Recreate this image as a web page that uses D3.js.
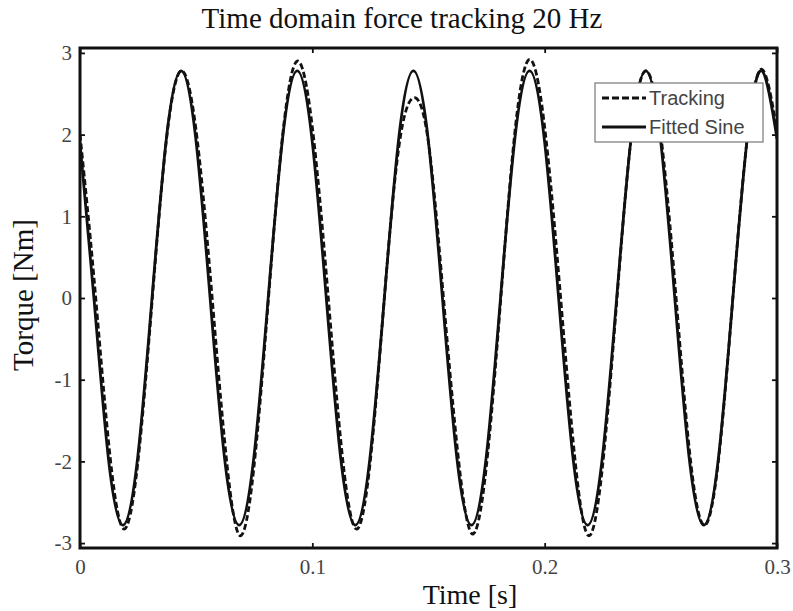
<!DOCTYPE html>
<html>
<head>
<meta charset="utf-8">
<script src="https://cdn.jsdelivr.net/npm/d3@7"></script>
<style>
  body { margin: 0; background: #fff; }
  svg text { font-family: "Liberation Serif", "Times New Roman", serif; }
</style>
</head>
<body>
<div id="chart"></div>
<script>
// time samples [s] (about eight per period)
var times = [0, 0.006, 0.01225, 0.0185, 0.02475, 0.031, 0.03725, 0.0435,
  0.04975, 0.056, 0.06225, 0.0685, 0.07475, 0.081, 0.08725, 0.0935,
  0.09975, 0.106, 0.11225, 0.1185, 0.12475, 0.131, 0.13725, 0.1435,
  0.14975, 0.156, 0.16225, 0.1685, 0.17475, 0.181, 0.18725, 0.1935,
  0.19975, 0.206, 0.21225, 0.2185, 0.22475, 0.231, 0.23725, 0.2435,
  0.24975, 0.256, 0.26225, 0.2685, 0.27475, 0.281, 0.28725, 0.2935, 0.3];

// fitted sine [Nm]
var fitted = [1.90, 0, -1.97, -2.78, -1.97, 0, 1.97, 2.78,
  1.97, 0, -1.97, -2.78, -1.97, 0, 1.97, 2.78,
  1.97, 0, -1.97, -2.78, -1.97, 0, 1.97, 2.78,
  1.97, 0, -1.97, -2.78, -1.97, 0, 1.97, 2.78,
  1.97, 0, -1.97, -2.78, -1.97, 0, 1.97, 2.78,
  1.97, 0, -1.97, -2.78, -1.97, 0, 1.97, 2.78, 1.95];

// measured tracking torque [Nm]
var tracking = [2.00, 0.25, -1.75, -2.82, -2.05, -0.05, 1.95, 2.78,
  2.10, 0.30, -1.75, -2.90, -2.10, -0.05, 2.00, 2.90,
  2.15, 0.30, -1.75, -2.82, -2.05, 0.00, 1.85, 2.45,
  1.95, 0.15, -1.80, -2.88, -2.10, -0.05, 2.05, 2.92,
  2.15, 0.30, -1.75, -2.90, -2.10, -0.05, 1.97, 2.78,
  2.05, 0.20, -1.85, -2.78, -2.00, 0.00, 1.97, 2.80, 2.05];

var xTicks = [0, 0.1, 0.2, 0.3];
var xTickLabels = ["0", "0.1", "0.2", "0.3"];
var yTicks = [-3, -2, -1, 0, 1, 2, 3];
var yTickLabels = ["-3", "-2", "-1", "0", "1", "2", "3"];
var legendNames = ["Tracking", "Fitted Sine"];

var W = 793, H = 611;
var m = {top: 48, right: 16, bottom: 63, left: 80};
var w = W - m.left - m.right, h = H - m.top - m.bottom;

var svg = d3.select("#chart").append("svg").attr("width", W).attr("height", H);
var g = svg.append("g").attr("transform", "translate(" + m.left + "," + m.top + ")");

var x = d3.scaleLinear().domain([0, 0.3]).range([0, w]);
var y = d3.scaleLinear().domain([-3.06, 3.06]).range([h, 0]);

svg.append("clipPath").attr("id", "clip")
    .append("rect").attr("width", w).attr("height", h);

var line = function(vals) {
  return d3.line()
    .x(function(d, i) { return x(times[i]); })
    .y(function(d) { return y(d); })
    .curve(d3.curveNatural)(vals);
};

var plot = g.append("g").attr("clip-path", "url(#clip)");
plot.append("path").attr("d", line(fitted))
    .attr("fill", "none").attr("stroke", "#111").attr("stroke-width", 2.8);
plot.append("path").attr("d", line(tracking))
    .attr("fill", "none").attr("stroke", "#111").attr("stroke-width", 2.8)
    .attr("stroke-dasharray", "6,3");

// axes, ticks pointing in like matlab
function styleAxis(sel) {
  sel.select(".domain").remove();
  sel.selectAll(".tick line").attr("stroke", "#111").attr("stroke-width", 1.8);
  sel.selectAll("text").attr("fill", "#444").style("font-size", "21px");
}
var xAx = g.append("g").attr("transform", "translate(0," + h + ")")
  .call(d3.axisBottom(x).tickValues(xTicks).tickSize(-5)
        .tickFormat(function(d, i) { return xTickLabels[i]; }))
  .call(styleAxis);
xAx.selectAll("text").attr("y", 26).attr("dy", 0);
g.append("g")
  .call(d3.axisLeft(y).tickValues(yTicks).tickSize(-5).tickPadding(8)
        .tickFormat(function(d, i) { return yTickLabels[i]; }))
  .call(styleAxis);
g.append("g")
  .call(d3.axisTop(x).tickValues(xTicks).tickSize(-5).tickFormat(""))
  .call(styleAxis);
g.append("g").attr("transform", "translate(" + w + ",0)")
  .call(d3.axisRight(y).tickValues(yTicks).tickSize(-5).tickFormat(""))
  .call(styleAxis);

g.append("rect").attr("width", w).attr("height", h)
  .attr("fill", "none").attr("stroke", "#111").attr("stroke-width", 3);

// legend
var lg = g.append("g").attr("transform", "translate(" + (595 - m.left) + "," + (83 - m.top) + ")");
lg.append("rect").attr("width", 168).attr("height", 59)
  .attr("fill", "#fff").attr("stroke", "#777").attr("stroke-width", 1.2);
legendNames.forEach(function(name, i) {
  var yy = 15 + i * 29;
  lg.append("line").attr("x1", 7).attr("x2", 51).attr("y1", yy).attr("y2", yy)
    .attr("stroke", "#111").attr("stroke-width", 2.8)
    .attr("stroke-dasharray", i === 0 ? "7,3" : null);
  lg.append("text").attr("x", 54).attr("y", yy + 7).text(name)
    .style("font-family", "'Liberation Sans', Arial, sans-serif")
    .style("font-size", "20px").attr("fill", "#444");
});

// titles
svg.append("text").attr("x", 402).attr("y", 28).attr("text-anchor", "middle")
  .style("font-size", "29px").attr("fill", "#111").text("Time domain force tracking 20 Hz");
svg.append("text").attr("x", 470).attr("y", 604).attr("text-anchor", "middle")
  .style("font-size", "28px").attr("fill", "#111").text("Time [s]");
svg.append("text").attr("transform", "translate(33,295) rotate(-90)").attr("text-anchor", "middle")
  .style("font-size", "29px").attr("fill", "#111").text("Torque [Nm]");
</script>
</body>
</html>
